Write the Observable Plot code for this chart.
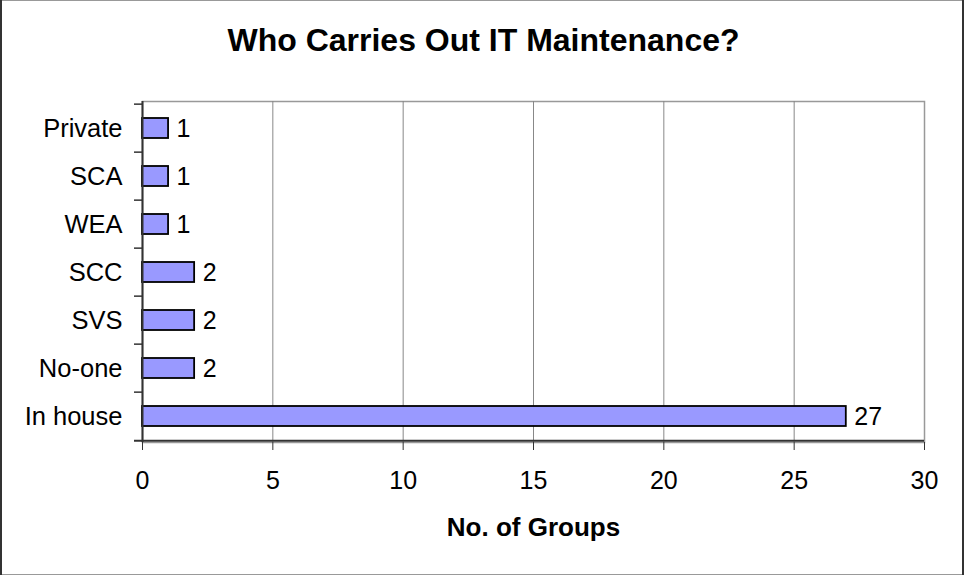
<!DOCTYPE html>
<html>
<head>
<meta charset="utf-8">
<script src="https://cdn.jsdelivr.net/npm/d3@7"></script>
<script src="https://cdn.jsdelivr.net/npm/@observablehq/plot@0.6"></script>
<style>
  html, body { margin: 0; padding: 0; background: #fff; }
  #chart svg { display: block; box-shadow: inset 2px 0 #333, inset -2px 0 #333, inset 0 1px #999, inset 0 -1px #999; }
</style>
</head>
<body>
<div id="chart"></div>
<script>
const title = "Who Carries Out IT Maintenance?";
const xLabel = "No. of Groups";
const categories = ["Private", "SCA", "WEA", "SCC", "SVS", "No-one", "In house"];
const values = [1, 1, 1, 2, 2, 2, 27];
const xTicks = [0, 5, 10, 15, 20, 25, 30];
const gridTicks = [5, 10, 15, 20, 25];

const data = categories.map((c, i) => ({category: c, value: values[i]}));

const W = 964, H = 575;
const mTop = 101, mRight = 40, mBottom = 133, mLeft = 142;
const step = (H - mTop - mBottom) / categories.length;
const barPad = 0.59;

const chart = Plot.plot({
  width: W,
  height: H,
  marginTop: mTop,
  marginRight: mRight,
  marginBottom: mBottom,
  marginLeft: mLeft,
  style: {fontFamily: "'Liberation Sans', Arial, sans-serif", fontSize: "25px", color: "#000", background: "#fff"},
  x: {domain: [0, 30]},
  y: {domain: categories, paddingInner: barPad, paddingOuter: barPad / 2},
  marks: [
    Plot.frame({stroke: "#999", strokeWidth: 1.5}),
    Plot.ruleX(gridTicks, {stroke: "#888", strokeWidth: 1}),
    Plot.barX(data, {x: "value", y: "category", fill: "#9999FF", stroke: "#000", strokeWidth: 1.8}),
    Plot.ruleX([0], {stroke: "#333", strokeWidth: 2}),
    Plot.ruleY(categories, {x1: 0, x2: 0, insetLeft: -8, dy: -step / 2, stroke: "#333", strokeWidth: 1.5}),
    Plot.ruleY([categories[categories.length - 1]], {x1: 0, x2: 30, insetLeft: -8, dy: step / 2, stroke: "#333", strokeWidth: 2}),
    Plot.axisY({tickSize: 0, tickPadding: 20, fontSize: 25.5, label: null}),
    Plot.axisX({ticks: xTicks, tickSize: 8, tickPadding: 21, fontSize: 25, label: null, stroke: "#333"}),
    Plot.text(data, {x: "value", y: "category", text: d => String(d.value), textAnchor: "start", dx: 8, fontSize: 25}),
    Plot.text([title], {frameAnchor: "top", lineAnchor: "bottom", dx: -50, dy: -51, fontSize: 32, fontWeight: "bold"}),
    Plot.text([xLabel], {frameAnchor: "bottom", lineAnchor: "bottom", dy: 93, fontSize: 26, fontWeight: "bold"})
  ]
});
document.getElementById("chart").appendChild(chart);
</script>
</body>
</html>
